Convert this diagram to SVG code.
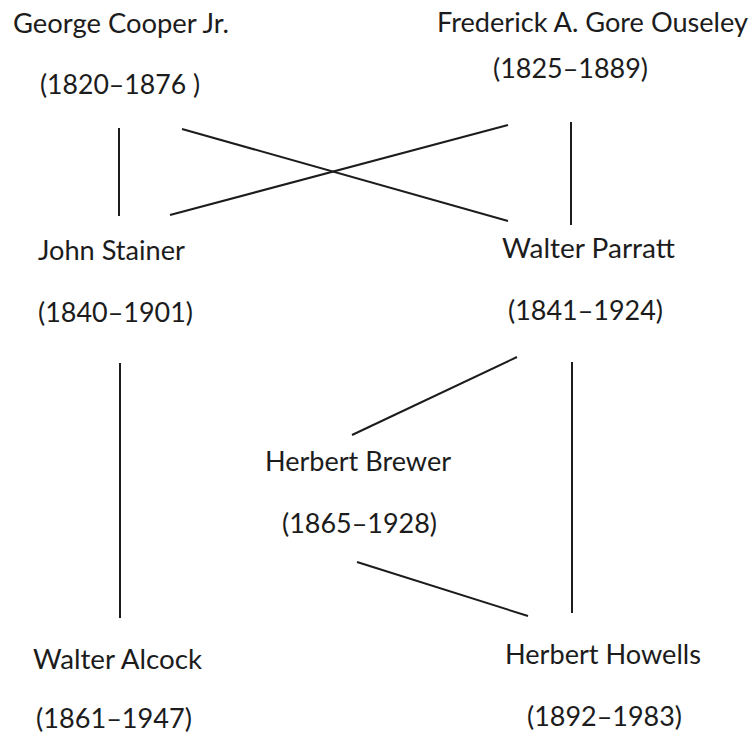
<svg xmlns="http://www.w3.org/2000/svg" width="753" height="735" viewBox="0 0 753 735">
<style>
text { font-family: Lato, "Open Sans", "Liberation Sans", sans-serif; font-size: 26px; fill: #1c1c1c; }
.c line { stroke: #1c1c1c; stroke-width: 2; }
</style>
<rect width="753" height="735" fill="#ffffff"/>
<g id="cooper">
<text x="13" y="33" textLength="216" lengthAdjust="spacingAndGlyphs">George Cooper Jr.</text>
<text x="40" y="94" textLength="160" lengthAdjust="spacingAndGlyphs">(1820–1876 )</text>
</g>
<g id="ouseley">
<text x="437" y="32" textLength="311" lengthAdjust="spacingAndGlyphs">Frederick A. Gore Ouseley</text>
<text x="493" y="78" textLength="155" lengthAdjust="spacingAndGlyphs">(1825–1889)</text>
</g>
<g id="stainer">
<text x="38" y="260" textLength="147" lengthAdjust="spacingAndGlyphs">John Stainer</text>
<text x="38" y="322" textLength="155" lengthAdjust="spacingAndGlyphs">(1840–1901)</text>
</g>
<g id="parratt">
<text x="502" y="258" textLength="173" lengthAdjust="spacingAndGlyphs">Walter Parratt</text>
<text x="508" y="320" textLength="155" lengthAdjust="spacingAndGlyphs">(1841–1924)</text>
</g>
<g id="brewer">
<text x="265" y="471" textLength="186" lengthAdjust="spacingAndGlyphs">Herbert Brewer</text>
<text x="282" y="533" textLength="155" lengthAdjust="spacingAndGlyphs">(1865–1928)</text>
</g>
<g id="alcock">
<text x="33" y="669" textLength="169" lengthAdjust="spacingAndGlyphs">Walter Alcock</text>
<text x="36" y="728" textLength="156" lengthAdjust="spacingAndGlyphs">(1861–1947)</text>
</g>
<g id="howells">
<text x="505" y="664" textLength="196" lengthAdjust="spacingAndGlyphs">Herbert Howells</text>
<text x="527" y="726" textLength="155" lengthAdjust="spacingAndGlyphs">(1892–1983)</text>
</g>
<g class="c" id="connectors">
<line x1="119" y1="128" x2="119" y2="216"/>
<line x1="182" y1="129" x2="508" y2="221"/>
<line x1="170" y1="215" x2="508" y2="125"/>
<line x1="571" y1="122" x2="571" y2="225"/>
<line x1="120" y1="363" x2="120" y2="618"/>
<line x1="517" y1="357" x2="352" y2="435"/>
<line x1="572" y1="362" x2="572" y2="613"/>
<line x1="357" y1="562" x2="528" y2="616"/>
</g>
</svg>
